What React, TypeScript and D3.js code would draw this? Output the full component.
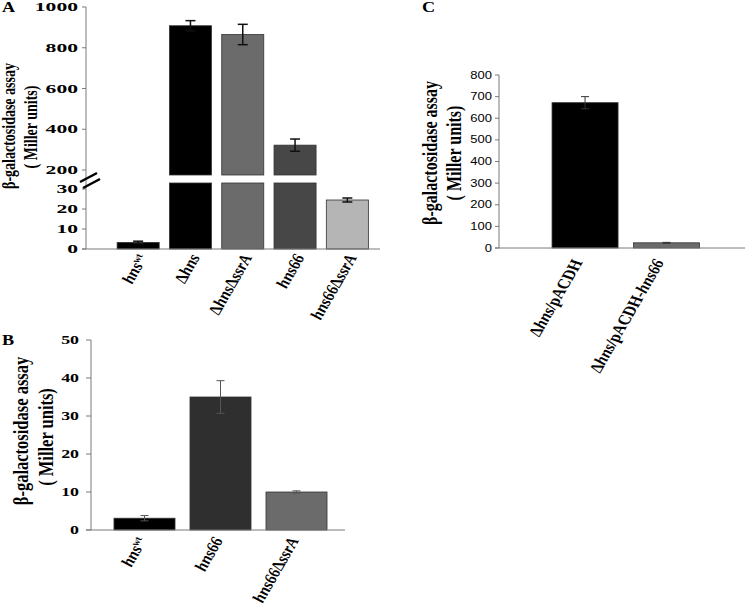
import React from "react";
import * as d3 from "d3";

// ---------- DATA ----------
// markup: *...* italic, ^...^ superscript
const catsA = ["*hns*^wt^", "Δ*hns*", "Δ*hns*Δ*ssrA*", "*hns66*", "*hns66*Δ*ssrA*"];
const valuesA = [3.3, 908, 865, 322, 24.5];
const errA = [0.6, 25, 50, 30, 1.0];
const colorsA = ["#000000", "#000000", "#6b6b6b", "#474747", "#b5b5b5"];
const ticksAHigh = [200, 400, 600, 800, 1000];
const ticksALow = [0, 10, 20, 30];

const catsB = ["*hns*^wt^", "*hns66*", "*hns66*Δ*ssrA*"];
const valuesB = [3.1, 35, 10];
const errB = [0.7, 4.3, 0.3];
const colorsB = ["#000000", "#2f2f2f", "#6b6b6b"];
const ticksB = [0, 10, 20, 30, 40, 50];

const catsC = ["Δ*hns*/pACDH", "Δ*hns*/pACDH-*hns66*"];
const valuesC = [672, 24];
const errC = [28, 2];
const colorsC = ["#000000", "#6b6b6b"];
const ticksC = [0, 100, 200, 300, 400, 500, 600, 700, 800];

const yTitle1 = "β-galactosidase assay";
const yTitle2 = "( Miller units)";

const SERIF = "'Liberation Serif', 'Times New Roman', serif";
const SANS = "'Liberation Sans', Arial, sans-serif";
const AXIS = "#7a7a7a";
const LABEL_ROT = -66;
const LABEL_SIZE = 14;

// ---------- helpers ----------
function parseLabel(s: string) {
  const segs: { t: string; it: boolean; sup: boolean }[] = [];
  let it = false, sup = false, cur = "";
  for (const ch of s) {
    if (ch === "*" || ch === "^") {
      if (cur) segs.push({ t: cur, it, sup });
      cur = "";
      if (ch === "*") it = !it; else sup = !sup;
    } else cur += ch;
  }
  if (cur) segs.push({ t: cur, it, sup });
  return segs;
}

function STxt(props: any) {
  const { x, y, sx = 1, rot = 0, anchor = "middle", size = 12, family = SERIF, weight = "bold", dy = "0", children, fill = "#000" } = props;
  return (
    <text
      transform={`translate(${x},${y}) scale(${sx},1) rotate(${rot})`}
      textAnchor={anchor}
      fontSize={size}
      fontFamily={family}
      fontWeight={weight}
      dy={dy}
      fill={fill}
    >
      {children}
    </text>
  );
}

function RichLabel({ x, y, s, size, sx, rot }: any) {
  const segs = parseLabel(s);
  return (
    <STxt x={x} y={y} sx={sx} rot={rot} anchor="end" size={size}>
      {segs.map((g, i) => (
        <tspan
          key={i}
          fontStyle={g.it ? "italic" : "normal"}
          fontSize={g.sup ? size * 0.62 : size}
          baselineShift={g.sup ? "super" : undefined}
        >
          {g.t}
        </tspan>
      ))}
    </STxt>
  );
}

function ErrBar({ x, y1, y2, cap, color, w }: any) {
  return (
    <g stroke={color} strokeWidth={w}>
      <line x1={x} x2={x} y1={y1} y2={y2} />
      <line x1={x - cap} x2={x + cap} y1={y1} y2={y1} />
      <line x1={x - cap} x2={x + cap} y1={y2} y2={y2} />
    </g>
  );
}

// ---------- Panel A ----------
function PanelA() {
  const axisX = 86, base = 249;
  const x = d3.scaleBand<string>().domain(catsA).range([112, 373.5]).paddingInner(0.196).paddingOuter(0.098);
  const yLow = d3.scaleLinear().domain([0, 30]).range([249, 189]);
  const yHigh = d3.scaleLinear().domain([200, 1000]).range([170, 7]);
  const lowMax = 33, highMin = 175.5;
  const bw = x.bandwidth();
  return (
    <g>
      <STxt x={2} y={12} sx={1.3} anchor="start" size={14}>A</STxt>
      {/* y title */}
      <STxt x={15} y={126} sx={1.3} rot={-90} size={14}>{yTitle1}</STxt>
      <STxt x={37} y={127} sx={1.3} rot={-90} size={14}>{yTitle2}</STxt>
      {/* bars */}
      {catsA.map((c, i) => {
        const v = valuesA[i];
        const x0 = x(c)!;
        const cx = x0 + bw / 2;
        if (v <= lowMax) {
          return (
            <g key={c}>
              <rect x={x0} y={yLow(v)} width={bw} height={yLow(0) - yLow(v)} fill={colorsA[i]} stroke="#333" strokeWidth={0.8} />
              <ErrBar x={cx} y1={yLow(v + errA[i])} y2={yLow(v - errA[i])} cap={5} color="#111" w={1.5} />
            </g>
          );
        }
        return (
          <g key={c}>
            <rect x={x0} y={yLow(lowMax)} width={bw} height={yLow(0) - yLow(lowMax)} fill={colorsA[i]} stroke="#333" strokeWidth={0.8} />
            <rect x={x0} y={yHigh(v)} width={bw} height={yHigh(highMin) - yHigh(v)} fill={colorsA[i]} stroke="#333" strokeWidth={0.8} />
            <ErrBar x={cx} y1={yHigh(v + errA[i])} y2={yHigh(v - errA[i])} cap={5} color="#111" w={1.5} />
          </g>
        );
      })}
      {/* axes */}
      <line x1={axisX} x2={axisX} y1={yHigh(1000)} y2={base} stroke={AXIS} strokeWidth={1} />
      <line x1={axisX - 4} x2={380} y1={base} y2={base} stroke={AXIS} strokeWidth={1} />
      {ticksAHigh.map((t) => (
        <g key={"h" + t}>
          <line x1={axisX - 4} x2={axisX} y1={yHigh(t)} y2={yHigh(t)} stroke={AXIS} />
          <STxt x={78} y={yHigh(t)} sx={1.8} anchor="end" size={12} dy="0.35em">{t}</STxt>
        </g>
      ))}
      {ticksALow.map((t) => (
        <g key={"l" + t}>
          <line x1={axisX - 4} x2={axisX} y1={yLow(t)} y2={yLow(t)} stroke={AXIS} />
          <STxt x={78} y={yLow(t)} sx={1.8} anchor="end" size={12} dy="0.35em">{t}</STxt>
        </g>
      ))}
      {/* break marks */}
      <line x1={80} y1={182} x2={97} y2={173} stroke="#000" strokeWidth={2.5} />
      <line x1={83} y1={188} x2={100} y2={179} stroke="#000" strokeWidth={2.5} />
      {/* x labels */}
      {catsA.map((c) => (
        <RichLabel key={c} x={x(c)! + bw / 2 + 10} y={257} s={c} size={LABEL_SIZE} sx={1.3} rot={LABEL_ROT} />
      ))}
    </g>
  );
}

// ---------- Panel B ----------
function PanelB() {
  const axisX = 91, base = 530;
  const x = d3.scaleBand<string>().domain(catsB).range([106.5, 334.5]).paddingInner(0.197).paddingOuter(0.0985);
  const y = d3.scaleLinear().domain([0, 50]).range([530, 340]);
  const bw = x.bandwidth();
  return (
    <g>
      <STxt x={2} y={345} sx={1.3} anchor="start" size={14}>B</STxt>
      <STxt x={28} y={431} sx={1.3} rot={-90} size={16.5}>{yTitle1}</STxt>
      <STxt x={53} y={437} sx={1.3} rot={-90} size={16.5}>{yTitle2}</STxt>
      {catsB.map((c, i) => {
        const v = valuesB[i];
        const x0 = x(c)!;
        return (
          <g key={c}>
            <rect x={x0} y={y(v)} width={bw} height={y(0) - y(v)} fill={colorsB[i]} stroke="#333" strokeWidth={0.8} />
            <ErrBar x={x0 + bw / 2} y1={y(v + errB[i])} y2={y(v - errB[i])} cap={4} color="#555" w={1} />
          </g>
        );
      })}
      <line x1={axisX} x2={axisX} y1={y(50)} y2={base} stroke={AXIS} />
      <line x1={axisX - 5} x2={345} y1={base} y2={base} stroke={AXIS} />
      {ticksB.map((t) => (
        <g key={t}>
          <line x1={axisX - 5} x2={axisX} y1={y(t)} y2={y(t)} stroke={AXIS} />
          <STxt x={79} y={y(t)} sx={1.43} anchor="end" size={12.5} dy="0.35em">{t}</STxt>
        </g>
      ))}
      {catsB.map((c) => (
        <RichLabel key={c} x={x(c)! + bw / 2 + 3} y={540} s={c} size={LABEL_SIZE} sx={1.3} rot={LABEL_ROT} />
      ))}
    </g>
  );
}

// ---------- Panel C ----------
function PanelC() {
  const axisX = 499, base = 248;
  const x = d3.scaleBand<string>().domain(catsC).range([544.3, 707.3]).paddingInner(0.19).paddingOuter(0.095);
  const y = d3.scaleLinear().domain([0, 800]).range([248, 75]);
  const bw = x.bandwidth();
  return (
    <g>
      <STxt x={422} y={12} sx={1.3} anchor="start" size={14}>C</STxt>
      <STxt x={437} y={153} sx={1.3} rot={-90} size={16}>{yTitle1}</STxt>
      <STxt x={461} y={153} sx={1.3} rot={-90} size={16}>{yTitle2}</STxt>
      {catsC.map((c, i) => {
        const v = valuesC[i];
        const x0 = x(c)!;
        return (
          <g key={c}>
            <rect x={x0} y={y(v)} width={bw} height={y(0) - y(v)} fill={colorsC[i]} stroke="#333" strokeWidth={0.8} />
            <ErrBar x={x0 + bw / 2} y1={y(v + errC[i])} y2={y(v - errC[i])} cap={4} color="#333" w={1} />
          </g>
        );
      })}
      <line x1={axisX} x2={axisX} y1={y(800)} y2={base} stroke={AXIS} />
      <line x1={axisX - 4} x2={745} y1={base} y2={base} stroke={AXIS} />
      {ticksC.map((t) => (
        <g key={t}>
          <line x1={axisX - 4} x2={axisX} y1={y(t)} y2={y(t)} stroke={AXIS} />
          <STxt x={492} y={y(t)} sx={1.3} anchor="end" size={10} family={SANS} weight="normal" dy="0.35em">{t}</STxt>
        </g>
      ))}
      {catsC.map((c) => (
        <RichLabel key={c} x={x(c)! + bw / 2 - 2} y={262} s={c} size={LABEL_SIZE} sx={1.3} rot={LABEL_ROT} />
      ))}
    </g>
  );
}

export default function App() {
  return (
    <svg width={750} height={604} style={{ position: "absolute", left: 0, top: 0, background: "#fff" }}>
      <rect width={750} height={604} fill="#fff" />
      <PanelA />
      <PanelB />
      <PanelC />
    </svg>
  );
}
